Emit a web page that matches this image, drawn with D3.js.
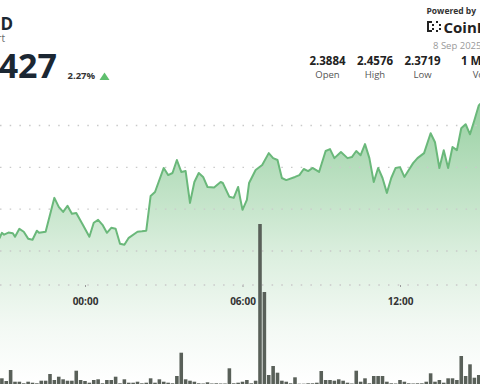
<!DOCTYPE html>
<html>
<head>
<meta charset="utf-8">
<script src="https://cdn.jsdelivr.net/npm/d3@7"></script>
<style>
html,body{margin:0;padding:0;background:#fff;overflow:hidden;}
svg{display:block;font-family:"Open Sans","Noto Sans",sans-serif;}
</style>
</head>
<body>
<svg id="chart" width="480" height="384"></svg>
<script>
// ---- data ----
const priceTimes = ["07 20:40","07 20:45","07 20:50","07 20:55","07 21:05","07 21:15","07 21:20","07 21:30","07 21:40","07 21:50","07 22:00","07 22:10","07 22:15","07 22:30","07 22:50","07 23:00","07 23:10","07 23:20","07 23:30","07 23:40","07 23:55",
"08 00:10","08 00:20","08 00:30","08 00:40","08 00:50","08 01:00","08 01:10","08 01:20","08 01:30","08 01:40","08 02:00","08 02:10","08 02:20","08 02:30","08 02:40","08 03:00","08 03:10","08 03:20","08 03:30","08 03:40","08 03:50",
"08 04:00","08 04:10","08 04:20","08 04:30","08 04:40","08 04:55","08 05:10","08 05:15","08 05:30","08 05:40","08 05:50","08 05:55","08 06:00","08 06:10","08 06:15","08 06:30","08 06:45","08 07:00","08 07:10","08 07:20","08 07:30","08 07:40",
"08 08:00","08 08:10","08 08:20","08 08:30","08 08:40","08 08:55","08 09:10","08 09:20","08 09:30","08 09:45","08 10:00","08 10:10","08 10:20","08 10:30","08 10:40","08 10:50","08 11:00","08 11:10","08 11:20","08 11:30","08 11:40","08 11:50",
"08 12:00","08 12:10","08 12:20","08 12:30","08 12:40","08 12:55","08 13:10","08 13:20","08 13:30","08 13:40","08 13:50","08 14:00","08 14:10","08 14:20","08 14:30","08 14:40","08 14:50","08 15:00","08 15:05"];
const priceValues = [2.3870,2.3863,2.3887,2.3878,2.3888,2.3885,2.3868,2.3906,2.3892,2.3859,2.3854,2.3897,2.3887,2.3892,2.4054,2.4011,2.3987,2.4016,2.3978,2.3982,2.3925,
2.3868,2.3935,2.3949,2.3925,2.3887,2.3911,2.3906,2.3835,2.3830,2.3863,2.3892,2.3894,2.3897,2.4063,2.4082,2.4197,2.4163,2.4173,2.4235,2.4178,2.4182,
2.4030,2.4130,2.4173,2.4154,2.4106,2.4104,2.4130,2.4125,2.4059,2.4054,2.4106,2.4049,2.3997,2.4044,2.4125,2.4187,2.4211,2.4268,2.4244,2.4235,2.4149,2.4139,
2.4154,2.4163,2.4192,2.4182,2.4197,2.4178,2.4278,2.4287,2.4244,2.4273,2.4244,2.4249,2.4278,2.4258,2.4311,2.4244,2.4130,2.4197,2.4149,2.4078,2.4149,2.4197,
2.4201,2.4154,2.4187,2.4220,2.4244,2.4268,2.4363,2.4320,2.4197,2.4282,2.4197,2.4297,2.4282,2.4387,2.4406,2.4358,2.4425,2.4496,2.4506];

// 10-minute volume bars from 20:40 (7 Sep) to 15:00 (8 Sep), thousands
const volumeStart = "07 20:40";
const volumeValues = [40,57,30,140,23,23,7,23,13,7,33,33,100,40,73,47,33,33,133,40,
30,13,40,47,7,40,40,73,7,47,13,13,23,7,13,57,13,47,23,13,
7,80,313,47,33,23,7,5,17,5,7,5,5,157,7,13,23,40,7,33,
1600,920,90,180,113,33,23,7,67,3,3,7,7,13,130,40,40,33,47,33,
13,5,133,23,57,7,80,80,80,23,7,5,40,23,7,5,7,7,23,107,
23,40,13,57,57,40,280,80,197,63,90];

const gridPrices = [2.38, 2.40, 2.42, 2.44];
const tickLabels = ["00:00", "06:00", "12:00"];
const statValues = ["2.3884", "2.4576", "2.3719", "1 M"];
const statLabels = ["Open", "High", "Low", "Vol"];

// ---- scales ----
const parse = s => d3.timeParse("%Y-%m-%d %H:%M")("2025-09-" + s);
const W = 480, H = 384;
const svg = d3.select("#chart");

const x = d3.scaleTime()
  .domain([parse("07 15:00"), parse("08 15:00")])
  .range([-151.25, 478.75]);
const y = d3.scaleLinear().domain([2.38, 2.44]).range([251, 125.5]);
const yVol = d3.scaleLinear().domain([0, 2000]).range([384, 184]);

const series = priceTimes.map((t, i) => ({ t: parse(t), v: priceValues[i] }));
const vStart = parse(volumeStart);
const volTimes = d3.timeMinute.every(10).range(vStart, d3.timeMinute.offset(vStart, 10 * volumeValues.length));
const vols = volumeValues.map((v, i) => ({ t: volTimes[i], v }));

// ---- gradient ----
const defs = svg.append("defs");
const grad = defs.append("linearGradient").attr("id", "areaGrad")
  .attr("gradientUnits", "userSpaceOnUse").attr("x1", 0).attr("x2", 0).attr("y1", 100).attr("y2", 384);
grad.append("stop").attr("offset", "0%").attr("stop-color", "#98d0a2");
grad.append("stop").attr("offset", "55%").attr("stop-color", "#dcefdf");
grad.append("stop").attr("offset", "80%").attr("stop-color", "#f3f9f4");
grad.append("stop").attr("offset", "100%").attr("stop-color", "#ffffff");

// ---- area ----
svg.append("path").datum(series)
  .attr("fill", "url(#areaGrad)")
  .attr("d", d3.area().x(d => x(d.t)).y0(H).y1(d => y(d.v)));

// ---- gridlines ----
const gridG = svg.append("g");
gridG.selectAll("line").data(gridPrices).join("line")
  .attr("x1", 0).attr("x2", W)
  .attr("y1", d => y(d)).attr("y2", d => y(d))
  .attr("stroke", "#c9c9c9").attr("stroke-width", 1.3)
  .attr("stroke-dasharray", "1.5,8.2");

// x axis (dotted) with ticks
const axisY = 285;
const xAxis = d3.axisBottom(x)
  .tickValues(tickLabels.map(s => parse("08 " + s)))
  .tickFormat(d3.timeFormat("%H:%M"))
  .tickSize(2).tickPadding(11);
const ax = svg.append("g").attr("transform", `translate(0,${axisY})`).call(xAxis);
ax.select(".domain").remove();
ax.append("line").attr("x1", 0).attr("x2", W).attr("y1", 0).attr("y2", 0)
  .attr("stroke", "#c9c9c9").attr("stroke-width", 1.3).attr("stroke-dasharray", "1.5,8.2");
ax.selectAll(".tick line").attr("stroke", "#999");
ax.selectAll(".tick text")
  .attr("font-family", "'Open Sans', sans-serif")
  .attr("font-size", 10).attr("font-weight", 700).attr("fill", "#333");

// ---- price line ----
svg.append("path").datum(series)
  .attr("fill", "none").attr("stroke", "#6ab87a").attr("stroke-width", 2)
  .attr("stroke-linejoin", "round")
  .attr("d", d3.line().x(d => x(d.t)).y(d => y(d.v)));

// ---- volume bars ----
const bw = x(d3.timeMinute.offset(vStart, 10)) - x(vStart);
svg.append("g").selectAll("rect").data(vols).join("rect")
  .attr("x", d => x(d.t) - bw / 2 + 0.4)
  .attr("width", bw - 0.8)
  .attr("y", d => yVol(d.v))
  .attr("height", d => yVol(0) - yVol(d.v))
  .attr("fill", "#596059");

// ---- header ----
const hdr = svg.append("g").attr("font-family", "'Open Sans', sans-serif");
hdr.append("text").attr("x", 13).attr("y", 30).attr("text-anchor", "end")
  .attr("font-size", 17).attr("font-weight", 700).attr("fill", "#1b2733").text("D");
hdr.append("text").attr("x", 5).attr("y", 42).attr("text-anchor", "end")
  .attr("font-size", 10).attr("fill", "#666").text("rt");
hdr.append("text").attr("x", 57).attr("y", 78).attr("text-anchor", "end")
  .attr("font-size", 34).attr("font-weight", 700).attr("fill", "#1b2733").text("427");
hdr.append("text").attr("x", 67.5).attr("y", 78.5)
  .attr("font-size", 9.5).attr("font-weight", 700).attr("fill", "#333").text("2.27%");
hdr.append("path").attr("d", "M99.5,80 L104.5,72.5 L109.5,80 Z").attr("fill", "#5fbf6e");

// Powered by + logo
hdr.append("text").attr("x", 426.5).attr("y", 13.5)
  .attr("font-size", 8.5).attr("font-weight", 700).attr("fill", "#333").text("Powered by");
const logo = hdr.append("g").attr("fill", "#222");
[[427,21,2,11],[427,21,5,2],[427,30,5,2],[432,24,2,2],[432,28,2,2],[436,21,2,2],[436,30,2,2],[439,24,2,2],[439,28,2,2]]
  .forEach(r => logo.append("rect").attr("x", r[0]).attr("y", r[1]).attr("width", r[2]).attr("height", r[3]));
hdr.append("text").attr("x", 443.5).attr("y", 33)
  .attr("font-size", 15).attr("font-weight", 700).attr("fill", "#222").text("CoinD");
hdr.append("text").attr("x", 433).attr("y", 48.5)
  .attr("font-size", 9.5).attr("fill", "#9a9a9a").text("8 Sep 2025");

// stats
const statX = [327.5, 375, 422.5, 461];
const statAnchor = ["middle", "middle", "middle", "start"];
const labelX = [327.5, 375, 422.5, 472.7];
statValues.forEach((v, i) => {
  hdr.append("text").attr("x", statX[i]).attr("y", 65).attr("text-anchor", statAnchor[i])
    .attr("font-size", 11.5).attr("font-weight", 700).attr("fill", "#222").text(v);
  hdr.append("text").attr("x", labelX[i]).attr("y", 77.5).attr("text-anchor", statAnchor[i])
    .attr("font-size", 9.5).attr("fill", "#555").text(statLabels[i]);
});
</script>
</body>
</html>
